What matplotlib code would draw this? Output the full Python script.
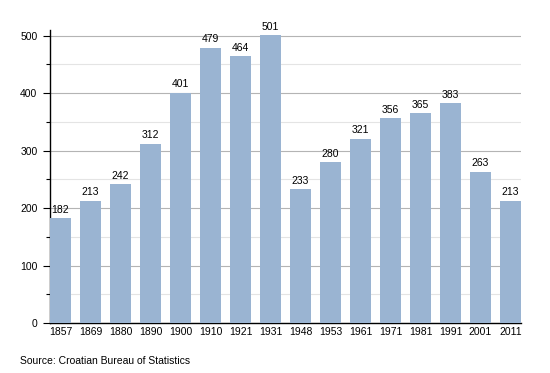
import matplotlib
matplotlib.use("Agg")
import matplotlib.pyplot as plt
import numpy as np
from matplotlib.ticker import MultipleLocator

years = ["1857", "1869", "1880", "1890", "1900", "1910", "1921", "1931",
         "1948", "1953", "1961", "1971", "1981", "1991", "2001", "2011"]
population = [182, 213, 242, 312, 401, 479, 464, 501,
              233, 280, 321, 356, 365, 383, 263, 213]

plt.rcParams['font.family'] = ['Liberation Sans', 'DejaVu Sans']

fig = plt.figure(figsize=(5.5, 3.73), dpi=100)
ax = fig.add_axes([50 / 550, 1 - 323 / 373, 471 / 550, 293 / 373])

x = np.arange(len(years))
w = 0.7
ax.bar(x, population, width=w, color="#9ab4d2", zorder=3)
for xi, v in zip(x, population):
    ax.text(xi, v + 6, str(v), ha="center", va="bottom", fontsize=7.5, zorder=4)

ax.set_xlim(-w / 2, len(years) - 1 + w / 2)
ax.set_ylim(0, 510)
ax.set_xticks(x)
ax.set_xticklabels(years, fontsize=7.5)
ax.yaxis.set_major_locator(MultipleLocator(100))
ax.yaxis.set_minor_locator(MultipleLocator(50))
ax.tick_params(axis="y", which="major", labelsize=7.5, length=5, width=0.8, pad=4)
ax.tick_params(axis="y", which="minor", length=3, width=0.8)
ax.tick_params(axis="x", length=0, pad=3)

ax.grid(axis="y", which="major", color="#b4b4b4", linewidth=0.8, zorder=0)
ax.grid(axis="y", which="minor", color="#e4e4e4", linewidth=0.8, zorder=0)
for s in ["top", "right"]:
    ax.spines[s].set_visible(False)
ax.spines["left"].set_linewidth(1.0)
ax.spines["bottom"].set_linewidth(1.0)

fig.text(20 / 550, 1 - 361 / 373, "Source: Croatian Bureau of Statistics",
         fontsize=7.5, va="center", ha="left")

fig.savefig("out.png", dpi=100)
